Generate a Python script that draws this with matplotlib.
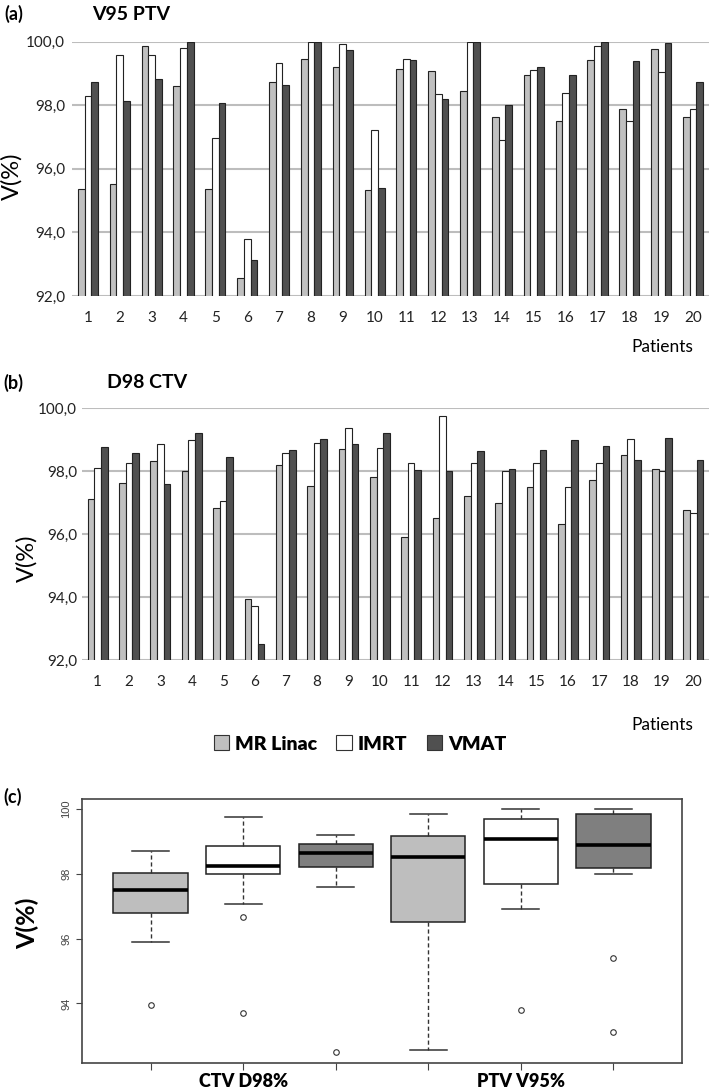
import numpy as np
import matplotlib
matplotlib.use("Agg")
from matplotlib import pyplot as plt
from matplotlib.patches import Patch

plt.rcParams['font.family'] = ['Lato', 'DejaVu Sans']

# --- data ---
patients = [str(i) for i in range(1, 21)]

# (a) V95 PTV
ptv_mr   = [95.36, 95.53, 99.86, 98.60, 95.38, 92.56, 98.74, 99.47, 99.21, 95.34,
            99.14, 99.07, 98.45, 97.62, 98.96, 97.52, 99.43, 97.87, 99.76, 97.62]
ptv_imrt = [98.29, 99.58, 99.58, 99.79, 96.98, 93.80, 99.34, 100.0, 99.92, 97.21,
            99.47, 98.35, 100.0, 96.91, 99.11, 98.39, 99.85, 97.49, 99.05, 97.89]
ptv_vmat = [98.74, 98.14, 98.82, 100.0, 98.07, 93.13, 98.64, 100.0, 99.74, 95.39,
            99.42, 98.21, 100.0, 98.01, 99.21, 98.94, 100.0, 99.39, 99.96, 98.74]

# (b) D98 CTV
ctv_mr   = [97.10, 97.61, 98.32, 98.01, 96.84, 93.95, 98.20, 97.53, 98.70, 97.82,
            95.91, 96.50, 97.22, 97.00, 97.49, 96.31, 97.70, 98.50, 98.05, 96.76]
ctv_imrt = [98.10, 98.25, 98.85, 98.99, 97.06, 93.70, 98.57, 98.89, 99.38, 98.73,
            98.25, 99.76, 98.25, 97.99, 98.25, 97.49, 98.25, 99.01, 97.99, 96.66]
ctv_vmat = [98.76, 98.57, 97.59, 99.20, 98.45, 92.50, 98.67, 99.03, 98.85, 99.20,
            98.04, 97.99, 98.63, 98.05, 98.66, 98.99, 98.80, 98.35, 99.06, 98.35]

methods = ['MR Linac', 'IMRT', 'VMAT']
bar_colors = ['#c0c0c0', 'white', '#505050']
box_colors = ['#bebebe', 'white', '#7f7f7f']

bar_yticks = [92, 94, 96, 98, 100]
bar_yticklabels = ['92,0', '94,0', '96,0', '98,0', '100,0']
box_yticks = [94, 96, 98, 100]
box_groups = ['CTV D98%', 'PTV V95%']

W, H = 709, 1092
fig = plt.figure(figsize=(W / 100, H / 100), dpi=100)


def fx(px):
    return px / W


def fy(py):
    return 1 - py / H


def bar_panel(rect, series, pad_y):
    ax = fig.add_axes(rect)
    x = np.arange(len(patients))
    w = 0.21
    for i, (vals, col) in enumerate(zip(series, bar_colors)):
        ax.bar(x + (i - 1) * w, vals, w, color=col, edgecolor='#222222', lw=0.8)
    ax.set_ylim(92, 100)
    ax.set_xlim(-0.5, len(patients) - 0.5)
    ax.set_yticks(bar_yticks)
    ax.set_yticklabels(bar_yticklabels)
    ax.set_xticks(x)
    ax.set_xticklabels(patients)
    ax.tick_params(axis='x', length=0, pad=11, labelsize=11, colors='#222222')
    ax.tick_params(axis='y', length=0, pad=pad_y, labelsize=11, colors='#222222')
    for s in ax.spines.values():
        s.set_visible(False)
    ax.yaxis.grid(True, color='#bdbdbd', lw=1.5)
    ax.set_axisbelow(True)
    return ax


# (a)
bar_panel([fx(72), fy(296), 1 - fx(72), (296 - 41.7) / H],
          [ptv_mr, ptv_imrt, ptv_vmat], 5)
fig.text(fx(4), fy(14), '(a)', fontsize=13, fontweight='bold', va='center')
fig.text(fx(92), fy(14), 'V95 PTV', fontsize=14, fontweight='bold', va='center')
fig.text(fx(12), fy(176), 'V(%)', fontsize=17, rotation=90, ha='center', va='center')
fig.text(fx(662), fy(347), 'Patients', fontsize=12.5, ha='center', va='center')

# (b)
bar_panel([fx(82), fy(660), 1 - fx(82), (660 - 408) / H],
          [ctv_mr, ctv_imrt, ctv_vmat], 3.5)
fig.text(fx(3), fy(383), '(b)', fontsize=13, fontweight='bold', va='center')
fig.text(fx(107), fy(383), 'D98 CTV', fontsize=14, fontweight='bold', va='center')
fig.text(fx(27), fy(558), 'V(%)', fontsize=17, rotation=90, ha='center', va='center')
fig.text(fx(662), fy(725), 'Patients', fontsize=12.5, ha='center', va='center')

handles = [Patch(facecolor=c, edgecolor='#333333', lw=0.8) for c in bar_colors]
fig.legend(handles, methods, loc='center', bbox_to_anchor=(fx(360), fy(744)),
           ncol=3, frameon=False, handlelength=0.8, handleheight=0.8,
           handletextpad=0.3, columnspacing=1.0,
           prop={'weight': 'heavy', 'size': 14})


# (c) box plot, R-style hinges
def box_stats(vals):
    v = np.sort(np.asarray(vals))
    q1, med, q3 = np.percentile(v, [25, 50, 75], method='midpoint')
    iqr = q3 - q1
    lo = v[v >= q1 - 1.5 * iqr].min()
    hi = v[v <= q3 + 1.5 * iqr].max()
    return dict(med=med, q1=q1, q3=q3, whislo=lo, whishi=hi,
                fliers=v[(v < lo) | (v > hi)])


groups = [ctv_mr, ctv_imrt, ctv_vmat, ptv_mr, ptv_imrt, ptv_vmat]
stats = [box_stats(g) for g in groups]

axc = fig.add_axes([fx(82), fy(1063), fx(682) - fx(82), (1063 - 799) / H])
pos = np.arange(1, len(groups) + 1)
bp = axc.bxp(stats, positions=pos, widths=0.8, patch_artist=True,
             boxprops=dict(lw=1.1, edgecolor='#222222'),
             medianprops=dict(color='black', lw=2.6),
             whiskerprops=dict(ls=(0, (3, 2)), lw=1, color='#333333'),
             capprops=dict(lw=1.1, color='#333333'),
             flierprops=dict(marker='o', mfc='none', mec='#333333', ms=4, mew=0.8))
for patch, col in zip(bp['boxes'], box_colors * 2):
    patch.set_facecolor(col)
axc.set_xlim(0.26, 6.74)
axc.set_ylim(92.16, 100.31)
axc.tick_params(axis='y', labelsize=8, length=4, colors='#444444', labelcolor='#444444')
axc.tick_params(axis='x', length=5, pad=2, colors='#444444', labelcolor='black')
axc.set_yticks(box_yticks)
axc.set_yticklabels([str(t) for t in box_yticks], rotation=90, va='center',
                    family=['Liberation Sans', 'DejaVu Sans'], fontsize=8)
axc.set_xticks(pos)
axc.set_xticklabels(['', box_groups[0], '', '', box_groups[1], ''],
                    fontsize=13, fontweight='heavy')
for s in axc.spines.values():
    s.set_color('#444444')
    s.set_linewidth(1.2)
fig.text(fx(3), fy(797), '(c)', fontsize=13, fontweight='bold', va='center')
fig.text(fx(27), fy(923), 'V(%)', fontsize=18, fontweight='bold', rotation=90,
         ha='center', va='center')

fig.savefig('out.png', dpi=100)
